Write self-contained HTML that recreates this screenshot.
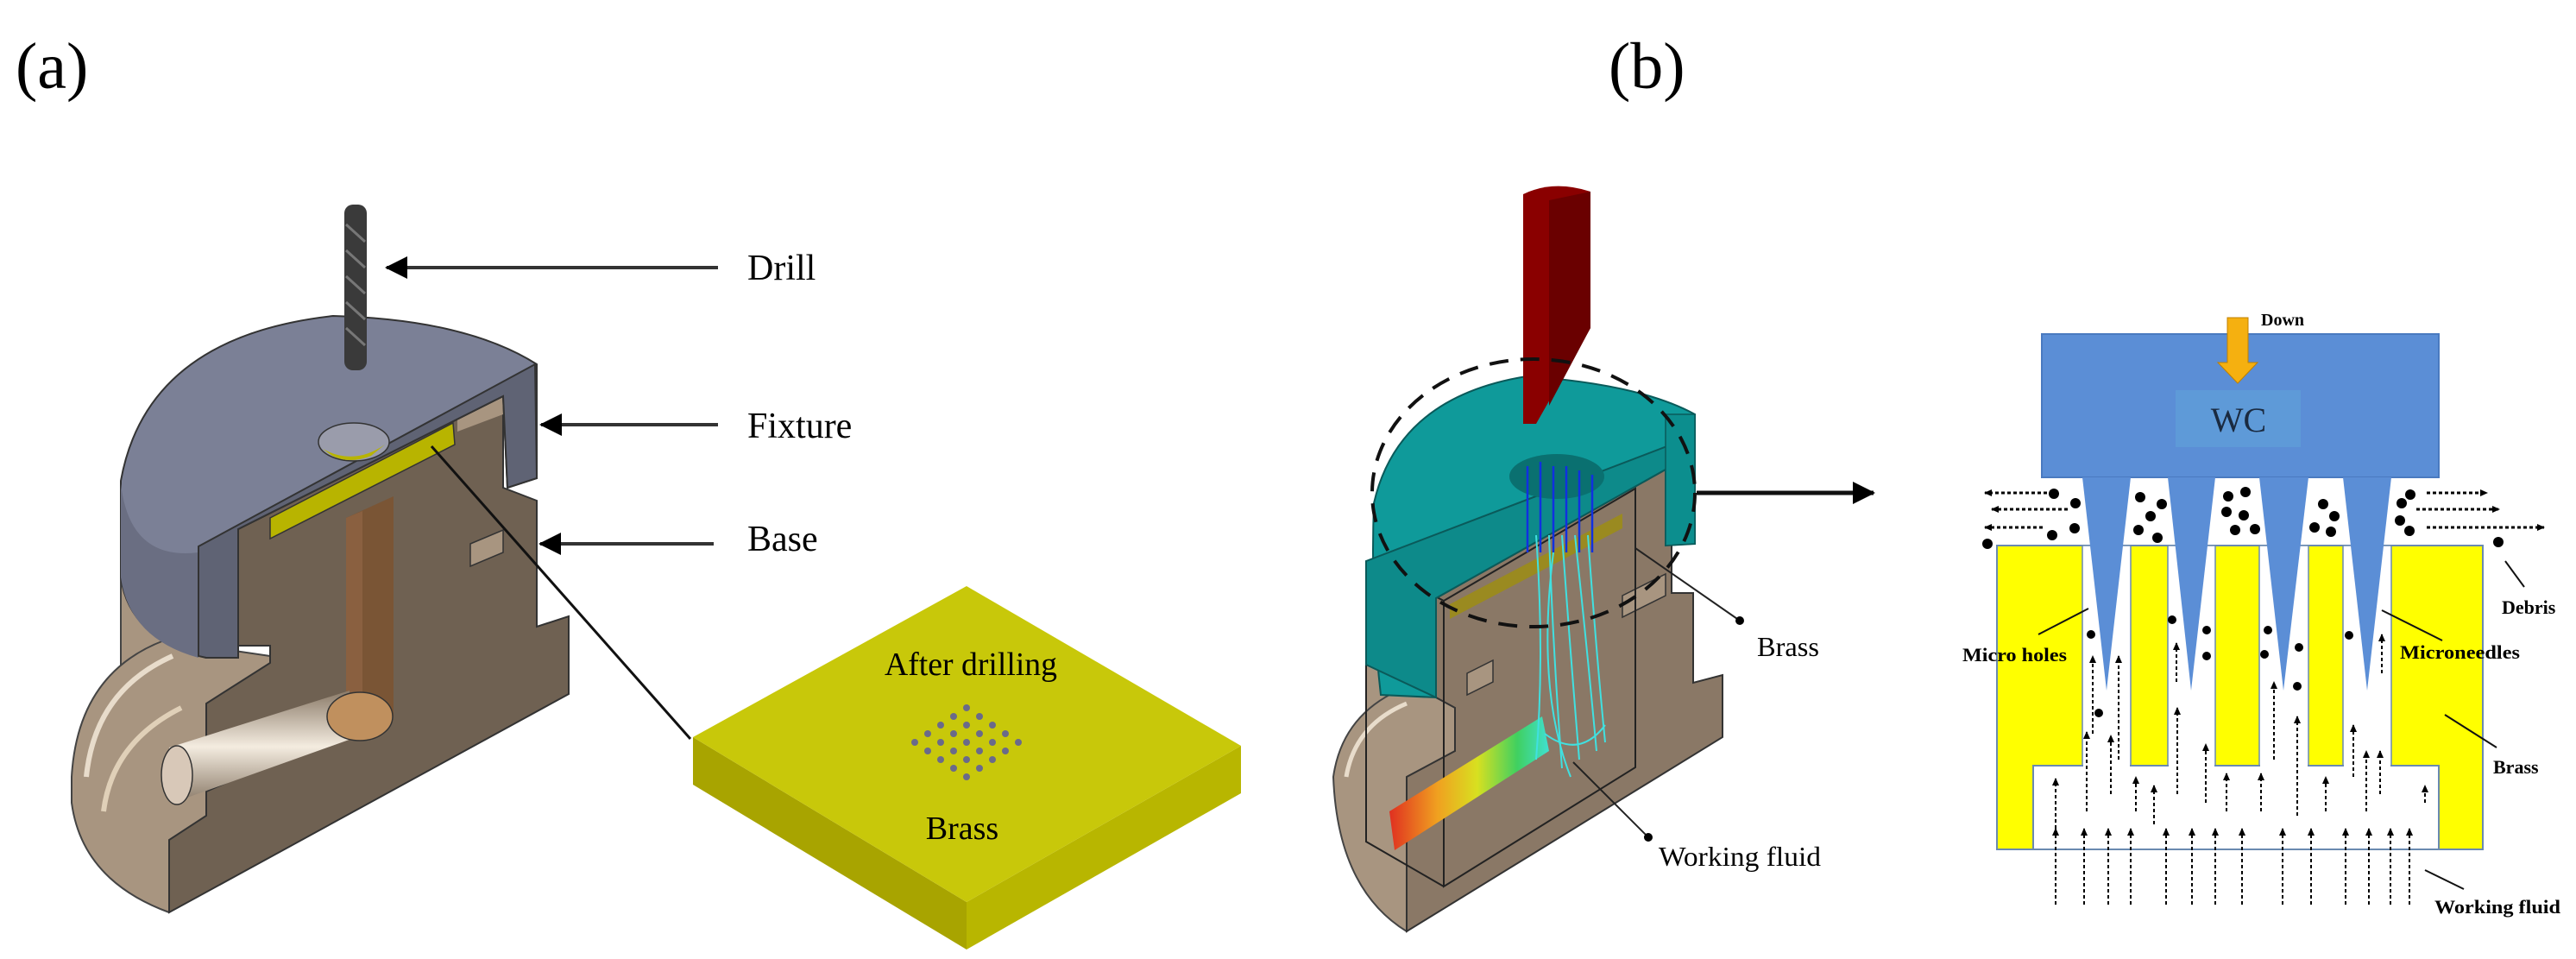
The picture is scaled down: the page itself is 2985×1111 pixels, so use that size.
<!DOCTYPE html>
<html><head><meta charset="utf-8"><style>
html,body{margin:0;padding:0;background:#fff;}
svg{display:block;}
text{font-family:"Liberation Serif",serif;}
</style></head><body>
<svg width="2985" height="1111" viewBox="0 0 2985 1111" xmlns="http://www.w3.org/2000/svg">
<defs>
<marker id="ahb" markerWidth="26" markerHeight="26" refX="24" refY="13" orient="auto" markerUnits="userSpaceOnUse"><path d="M0,0 L26,13 L0,26 Z" fill="#000"/></marker>
<marker id="ahs" markerWidth="10" markerHeight="10" refX="8" refY="5" orient="auto" markerUnits="userSpaceOnUse"><path d="M0,1 L9,5 L0,9 Z" fill="#000"/></marker>
<linearGradient id="pipe" x1="0" y1="0" x2="1" y2="0"><stop offset="0" stop-color="#e03020"/><stop offset="0.3" stop-color="#f0a020"/><stop offset="0.55" stop-color="#d8e020"/><stop offset="0.8" stop-color="#40d060"/><stop offset="1" stop-color="#40e0d0"/></linearGradient>
<linearGradient id="bore" x1="0" y1="0" x2="0" y2="1"><stop offset="0" stop-color="#8a7a68"/><stop offset="0.5" stop-color="#f4ece0"/><stop offset="1" stop-color="#8a7a68"/></linearGradient>
</defs>

<text x="18" y="102" font-size="76">(a)</text>
<text x="1864" y="102" font-size="76">(b)</text>

<!-- ===== (a) ===== -->
<path d="M140,669 L140,780 Q180,800 276,790 L276,740 Z" fill="#a89580" stroke="#444" stroke-width="2"/>
<path d="M83,900 Q90,780 190,742 L313,760 L313,960 L196,1057 Q95,1020 83,930 Z" fill="#a89580" stroke="#444" stroke-width="2"/>
<path d="M100,900 Q110,800 200,760" fill="none" stroke="#e8dccb" stroke-width="6"/>
<path d="M120,940 Q130,860 210,820" fill="none" stroke="#e0d0b8" stroke-width="6"/>
<!-- base cut face -->
<path d="M276,613 L583,459 L583,565 L622,580 L622,726 L659,714 L659,804 L196,1057 L196,973 L239,945 L239,917 L300,890 L300,850 L239,860 L239,815 L313,768 L313,748 L276,748 Z" fill="#6f6152" stroke="#333" stroke-width="2"/>
<path d="M545,630 L583,614 L583,640 L545,656 Z" fill="#a89580" stroke="#333" stroke-width="1.5"/>
<path d="M530,475 L583,459 L583,480 L530,500 Z" fill="#a89580"/>
<!-- vertical bore -->
<path d="M401,600 L456,575 L456,830 L401,849 Z" fill="#7a5535"/>
<path d="M401,600 L420,592 L420,845 L401,849 Z" fill="#8a6040"/>
<!-- horizontal bore -->
<path d="M196,866 L405,800 L410,855 L200,930 Z" fill="url(#bore)"/>
<ellipse cx="417" cy="830" rx="38" ry="28" fill="#c0905e" stroke="#333" stroke-width="1.5"/>
<ellipse cx="205" cy="898" rx="18" ry="34" fill="#d8c8b8" stroke="#333" stroke-width="1.5"/>
<!-- brass plate -->
<path d="M313,600 L525,490 L527,515 L313,624 Z" fill="#b8b400" stroke="#333" stroke-width="1.5"/>
<!-- fixture cap -->
<path d="M140,557 Q170,390 386,366 Q540,370 622,422 L622,554 L588,565 L583,459 L276,613 L276,762 L239,762 Q150,740 140,669 Z" fill="#7b8096" stroke="#333" stroke-width="2"/>
<path d="M140,560 Q150,650 230,640 L230,762 Q150,740 140,669 Z" fill="#6a6e82"/>
<path d="M230,633 L620,422 L622,554 L588,565 L583,459 L276,613 L276,762 L239,762 L230,760 Z" fill="#5f6374" stroke="#333" stroke-width="2"/>
<ellipse cx="410" cy="512" rx="41" ry="22" fill="#9a9cab" stroke="#333" stroke-width="1.5"/>
<path d="M374,520 Q410,540 446,515 L430,528 Q405,538 385,528 Z" fill="#b8b400"/>
<!-- drill -->
<rect x="399" y="237" width="26" height="192" rx="10" fill="#3a3a3a"/>
<path d="M401,260 L423,280 M401,290 L423,310 M401,320 L423,340 M401,350 L423,370 M401,380 L423,400" stroke="#777" stroke-width="3"/>
<!-- labels (a) -->
<line x1="832" y1="310" x2="448" y2="310" stroke="#333" stroke-width="4" marker-end="url(#ahb)"/>
<line x1="832" y1="492" x2="627" y2="492" stroke="#333" stroke-width="4" marker-end="url(#ahb)"/>
<line x1="827" y1="630" x2="626" y2="630" stroke="#333" stroke-width="4" marker-end="url(#ahb)"/>
<text x="866" y="324" font-size="42">Drill</text>
<text x="866" y="507" font-size="42">Fixture</text>
<text x="866" y="638" font-size="42">Base</text>
<line x1="500" y1="517" x2="800" y2="856" stroke="#111" stroke-width="3"/>
<!-- brass plate -->
<path d="M803,854 L1120,1045 L1120,1100 L803,909 Z" fill="#a8a400"/>
<path d="M1120,1045 L1438,864 L1438,919 L1120,1100 Z" fill="#b8b600"/>
<path d="M1120,679 L1438,864 L1120,1045 L803,854 Z" fill="#c8c80a"/>
<text x="1125" y="782" font-size="38" text-anchor="middle" textLength="200" lengthAdjust="spacingAndGlyphs">After drilling</text>
<text x="1115" y="972" font-size="38" text-anchor="middle">Brass</text>
<g fill="#6a6a8a">
<circle cx="1120" cy="860" r="4"/><circle cx="1105" cy="850" r="4"/><circle cx="1135" cy="850" r="4"/><circle cx="1105" cy="870" r="4"/><circle cx="1135" cy="870" r="4"/>
<circle cx="1090" cy="860" r="4"/><circle cx="1150" cy="860" r="4"/><circle cx="1120" cy="840" r="4"/><circle cx="1120" cy="880" r="4"/>
<circle cx="1075" cy="850" r="4"/><circle cx="1165" cy="850" r="4"/><circle cx="1075" cy="870" r="4"/><circle cx="1165" cy="870" r="4"/>
<circle cx="1090" cy="840" r="4"/><circle cx="1150" cy="840" r="4"/><circle cx="1090" cy="880" r="4"/><circle cx="1150" cy="880" r="4"/>
<circle cx="1105" cy="830" r="4"/><circle cx="1135" cy="830" r="4"/><circle cx="1105" cy="890" r="4"/><circle cx="1135" cy="890" r="4"/>
<circle cx="1120" cy="820" r="4"/><circle cx="1120" cy="900" r="4"/><circle cx="1060" cy="860" r="4"/><circle cx="1180" cy="860" r="4"/>
</g>

<!-- ===== (b) simulation ===== -->
<path d="M1583,760 L1583,830 Q1620,840 1686,820 L1686,740 Z" fill="#a89580" stroke="#444" stroke-width="2"/>
<path d="M1545,900 Q1555,830 1620,800 L1686,810 L1686,1000 L1630,1079 Q1550,1030 1545,900 Z" fill="#a89580" stroke="#444" stroke-width="2"/>
<path d="M1560,900 Q1570,840 1630,815" fill="none" stroke="#e8dccb" stroke-width="5"/>
<path d="M1664,693 L1937,540 L1937,687 L1962,687 L1962,791 L1996,782 L1996,854 L1630,1079 L1630,900 L1686,870 L1686,820 L1664,808 Z" fill="#8a7866" stroke="#333" stroke-width="2"/>
<path d="M1700,780 L1730,765 L1730,790 L1700,805 Z M1880,690 L1930,665 L1930,690 L1880,715 Z" fill="#a89580" stroke="#333" stroke-width="1.5"/>
<!-- transparent box -->
<path d="M1673,696 L1895,566 L1895,889 L1673,1027 Z M1583,650 L1583,975 L1673,1027 M1583,650 L1673,696" fill="none" stroke="#222" stroke-width="2"/>
<!-- teal cap -->
<path d="M1592,583 Q1620,460 1769,436 Q1900,445 1964,480 L1964,630 L1930,632 L1930,540 L1664,693 L1664,808 L1600,805 Q1588,700 1592,583 Z" fill="#0f9a9a" stroke="#0a5a5a" stroke-width="2"/>
<path d="M1583,650 L1937,515 L1937,540 L1664,693 L1664,808 L1583,770 Z" fill="#0d8a8a" stroke="#0a5a5a" stroke-width="2"/>
<path d="M1930,480 L1964,480 L1964,630 L1930,632 Z" fill="#0c8e8e" stroke="#0a5a5a" stroke-width="1.5"/>
<ellipse cx="1804" cy="552" rx="55" ry="26" fill="#0a7070"/>
<path d="M1680,700 L1880,595 L1880,612 L1680,717 Z" fill="#9a8a20"/>
<!-- pipe & flow -->
<path d="M1610,940 L1787,830 L1795,870 L1616,985 Z" fill="url(#pipe)"/>
<g stroke="#40e0e0" stroke-width="2" fill="none">
<path d="M1780,620 Q1790,760 1780,880"/><path d="M1795,620 Q1800,760 1810,890"/><path d="M1810,620 Q1820,760 1830,880"/><path d="M1825,620 Q1840,760 1850,870"/><path d="M1840,620 Q1850,760 1860,860"/><path d="M1800,640 Q1780,800 1820,900"/><path d="M1790,850 Q1830,880 1860,840"/>
</g>
<g stroke="#1030e0" stroke-width="2.5"><line x1="1770" y1="540" x2="1770" y2="640"/><line x1="1785" y1="535" x2="1785" y2="640"/><line x1="1800" y1="540" x2="1800" y2="640"/><line x1="1815" y1="540" x2="1815" y2="640"/><line x1="1830" y1="545" x2="1830" y2="640"/><line x1="1845" y1="550" x2="1845" y2="640"/></g>
<!-- red tool -->
<path d="M1765,225 Q1800,208 1843,222 L1843,380 L1780,491 L1765,491 Z" fill="#8a0000"/>
<path d="M1795,232 L1843,222 L1843,380 L1795,470 Z" fill="#6a0000"/>
<ellipse cx="1777" cy="571" rx="187" ry="155" fill="none" stroke="#111" stroke-width="4" stroke-dasharray="22,14"/>
<line x1="1966" y1="571" x2="2171" y2="571" stroke="#111" stroke-width="5" marker-end="url(#ahb)"/>
<line x1="1895" y1="635" x2="2016" y2="719" stroke="#222" stroke-width="2"/><circle cx="2016" cy="719" r="5"/>
<line x1="1823" y1="883" x2="1910" y2="970" stroke="#222" stroke-width="2"/><circle cx="1910" cy="970" r="5"/>
<text x="2036" y="760" font-size="32" textLength="72" lengthAdjust="spacingAndGlyphs">Brass</text>
<text x="1922" y="1003" font-size="32" textLength="188" lengthAdjust="spacingAndGlyphs">Working fluid</text>

<!-- ===== schematic ===== -->
<rect x="2366" y="387" width="460" height="166" fill="#5b8ed6" stroke="#4a7ac0" stroke-width="2"/>
<rect x="2521" y="452" width="145" height="66" fill="#5e9ad8"/>
<text x="2594" y="500" font-size="40" text-anchor="middle" fill="#1a2a40">WC</text>
<path d="M2581,368 L2605,368 L2605,420 L2616,420 L2593,444 L2570,420 L2581,420 Z" fill="#f5b010" stroke="#c08000" stroke-width="1"/>
<text x="2620" y="377" font-size="20" font-weight="bold">Down</text>
<path d="M2314,632 L2877,632 L2877,984 L2314,984 Z" fill="#ffff00" stroke="#6a8ab0" stroke-width="2"/>
<g fill="#fff" stroke="#6a8ab0" stroke-width="1.5">
<rect x="2413" y="632" width="56" height="262"/><rect x="2512" y="632" width="55" height="262"/><rect x="2618" y="632" width="57" height="262"/><rect x="2715" y="632" width="56" height="262"/>
</g>
<rect x="2356" y="887" width="470" height="97" fill="#fff" stroke="#6a8ab0" stroke-width="2"/>
<rect x="2414" y="633" width="54" height="256" fill="#fff"/><rect x="2513" y="633" width="53" height="256" fill="#fff"/><rect x="2619" y="633" width="55" height="256" fill="#fff"/><rect x="2716" y="633" width="54" height="256" fill="#fff"/>
<line x1="2314" y1="984" x2="2877" y2="984" stroke="#6a8ab0" stroke-width="2"/>
<g fill="#5b8ed6"><path d="M2413,553 L2469,553 L2441,800Z"/><path d="M2512,553 L2567,553 L2539,800Z"/><path d="M2618,553 L2675,553 L2646,800Z"/><path d="M2715,553 L2771,553 L2743,800Z"/></g>
<g fill="#000">
<circle cx="2380" cy="572" r="6"/><circle cx="2405" cy="583" r="6"/><circle cx="2378" cy="620" r="6"/><circle cx="2404" cy="612" r="6"/><circle cx="2303" cy="630" r="6"/>
<circle cx="2480" cy="576" r="6"/><circle cx="2505" cy="584" r="6"/><circle cx="2492" cy="598" r="6"/><circle cx="2478" cy="614" r="6"/><circle cx="2500" cy="623" r="6"/>
<circle cx="2582" cy="575" r="6"/><circle cx="2602" cy="570" r="6"/><circle cx="2580" cy="593" r="6"/><circle cx="2600" cy="597" r="6"/><circle cx="2590" cy="614" r="6"/><circle cx="2613" cy="613" r="6"/>
<circle cx="2692" cy="584" r="6"/><circle cx="2705" cy="598" r="6"/><circle cx="2682" cy="611" r="6"/><circle cx="2701" cy="616" r="6"/>
<circle cx="2783" cy="583" r="6"/><circle cx="2793" cy="573" r="6"/><circle cx="2781" cy="603" r="6"/><circle cx="2792" cy="615" r="6"/><circle cx="2895" cy="628" r="6"/>
<circle cx="2423" cy="735" r="5"/><circle cx="2432" cy="826" r="5"/>
<circle cx="2517" cy="718" r="5"/><circle cx="2557" cy="730" r="5"/><circle cx="2557" cy="760" r="5"/>
<circle cx="2628" cy="730" r="5"/><circle cx="2624" cy="758" r="5"/><circle cx="2664" cy="750" r="5"/><circle cx="2662" cy="795" r="5"/>
<circle cx="2722" cy="736" r="5"/>
</g>
<g stroke="#000" stroke-width="3" stroke-dasharray="4,3" fill="none">
<line x1="2372" y1="571" x2="2300" y2="571" marker-end="url(#ahs)"/>
<line x1="2396" y1="590" x2="2308" y2="590" marker-end="url(#ahs)"/>
<line x1="2367" y1="611" x2="2300" y2="611" marker-end="url(#ahs)"/>
<line x1="2812" y1="571" x2="2882" y2="571" marker-end="url(#ahs)"/>
<line x1="2800" y1="590" x2="2896" y2="590" marker-end="url(#ahs)"/>
<line x1="2812" y1="611" x2="2948" y2="611" marker-end="url(#ahs)"/>
</g>
<g stroke="#000" stroke-width="2" stroke-dasharray="4,3" fill="none">
<line x1="2382" y1="1048" x2="2382" y2="960" marker-end="url(#ahs)"/>
<line x1="2415" y1="1048" x2="2415" y2="960" marker-end="url(#ahs)"/>
<line x1="2443" y1="1048" x2="2443" y2="960" marker-end="url(#ahs)"/>
<line x1="2469" y1="1048" x2="2469" y2="960" marker-end="url(#ahs)"/>
<line x1="2510" y1="1048" x2="2510" y2="960" marker-end="url(#ahs)"/>
<line x1="2540" y1="1048" x2="2540" y2="960" marker-end="url(#ahs)"/>
<line x1="2567" y1="1048" x2="2567" y2="960" marker-end="url(#ahs)"/>
<line x1="2598" y1="1048" x2="2598" y2="960" marker-end="url(#ahs)"/>
<line x1="2645" y1="1048" x2="2645" y2="960" marker-end="url(#ahs)"/>
<line x1="2678" y1="1048" x2="2678" y2="960" marker-end="url(#ahs)"/>
<line x1="2718" y1="1048" x2="2718" y2="960" marker-end="url(#ahs)"/>
<line x1="2745" y1="1048" x2="2745" y2="960" marker-end="url(#ahs)"/>
<line x1="2770" y1="1048" x2="2770" y2="960" marker-end="url(#ahs)"/>
<line x1="2792" y1="1048" x2="2792" y2="960" marker-end="url(#ahs)"/>
<line x1="2382" y1="960" x2="2382" y2="902" marker-end="url(#ahs)"/>
<line x1="2418" y1="940" x2="2418" y2="848" marker-end="url(#ahs)"/>
<line x1="2425" y1="850" x2="2425" y2="760" marker-end="url(#ahs)"/>
<line x1="2455" y1="880" x2="2455" y2="760" marker-end="url(#ahs)"/>
<line x1="2446" y1="920" x2="2446" y2="852" marker-end="url(#ahs)"/>
<line x1="2475" y1="940" x2="2475" y2="900" marker-end="url(#ahs)"/>
<line x1="2496" y1="955" x2="2496" y2="910" marker-end="url(#ahs)"/>
<line x1="2523" y1="920" x2="2523" y2="820" marker-end="url(#ahs)"/>
<line x1="2522" y1="790" x2="2522" y2="745" marker-end="url(#ahs)"/>
<line x1="2556" y1="930" x2="2556" y2="862" marker-end="url(#ahs)"/>
<line x1="2580" y1="940" x2="2580" y2="896" marker-end="url(#ahs)"/>
<line x1="2620" y1="940" x2="2620" y2="896" marker-end="url(#ahs)"/>
<line x1="2635" y1="880" x2="2635" y2="790" marker-end="url(#ahs)"/>
<line x1="2662" y1="945" x2="2662" y2="830" marker-end="url(#ahs)"/>
<line x1="2695" y1="940" x2="2695" y2="900" marker-end="url(#ahs)"/>
<line x1="2727" y1="900" x2="2727" y2="840" marker-end="url(#ahs)"/>
<line x1="2742" y1="940" x2="2742" y2="870" marker-end="url(#ahs)"/>
<line x1="2758" y1="920" x2="2758" y2="870" marker-end="url(#ahs)"/>
<line x1="2760" y1="780" x2="2760" y2="735" marker-end="url(#ahs)"/>
<line x1="2810" y1="930" x2="2810" y2="910" marker-end="url(#ahs)"/>
</g>
<g stroke="#111" stroke-width="2">
<line x1="2903" y1="650" x2="2925" y2="680"/>
<line x1="2362" y1="735" x2="2420" y2="705"/>
<line x1="2830" y1="742" x2="2760" y2="707"/>
<line x1="2893" y1="866" x2="2833" y2="828"/>
<line x1="2855" y1="1030" x2="2810" y2="1008"/>
</g>
<g font-size="22" font-weight="bold">
<text x="2899" y="711">Debris</text>
<text x="2274" y="766" textLength="121" lengthAdjust="spacingAndGlyphs">Micro holes</text>
<text x="2781" y="763" textLength="139" lengthAdjust="spacingAndGlyphs">Microneedles</text>
<text x="2889" y="896">Brass</text>
<text x="2821" y="1058" textLength="146" lengthAdjust="spacingAndGlyphs">Working fluid</text>
</g>
</svg>
</body></html>
